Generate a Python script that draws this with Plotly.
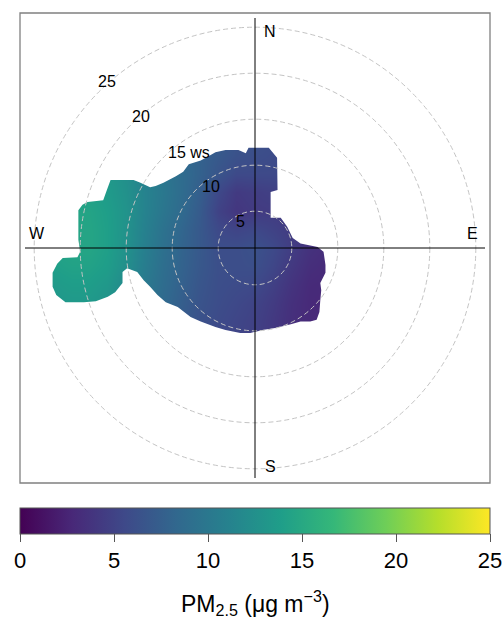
import plotly.graph_objects as go

# ---- data -------------------------------------------------------------
# PM2.5 surface on a regular grid (x = east component, y = north component,
# in radial plot units where radius = wind speed - ws_offset)
grid_x = [-22, -20, -18, -16, -14, -12, -10, -8, -6, -4, -2, 0, 2, 4, 6, 8]
grid_y = [-10, -8, -6, -4, -2, 0, 2, 4, 6, 8, 10, 12]
pm25 = [
    [13.0, 13.0, 13.0, 12.5, 11.0, 9.5, 8.0, 7.0, 6.2, 5.6, 5.2, 4.8, 4.2, 3.5, 3.0, 2.8],
    [13.0, 13.0, 13.0, 12.5, 11.0, 9.5, 8.2, 7.2, 6.3, 5.7, 5.3, 4.9, 4.2, 3.4, 2.9, 2.8],
    [13.2, 13.4, 13.4, 12.8, 11.3, 9.8, 8.5, 7.5, 6.5, 5.9, 5.5, 5.1, 4.4, 3.5, 2.9, 2.8],
    [13.5, 13.8, 13.8, 13.3, 11.8, 10.2, 8.8, 7.7, 6.7, 6.0, 5.8, 5.6, 4.8, 3.8, 3.0, 2.9],
    [14.0, 14.3, 14.3, 13.8, 12.4, 10.6, 9.0, 7.9, 6.9, 6.1, 6.0, 6.1, 5.3, 4.2, 3.3, 3.0],
    [14.3, 14.6, 14.6, 14.0, 12.6, 10.8, 9.2, 8.0, 7.0, 6.0, 6.0, 6.3, 5.6, 4.6, 3.6, 3.2],
    [14.3, 14.6, 14.6, 14.0, 12.7, 11.0, 9.4, 8.2, 7.0, 5.6, 5.2, 5.5, 5.0, 4.4, 3.8, 3.5],
    [14.2, 14.5, 14.5, 13.9, 12.8, 11.2, 9.8, 8.6, 7.2, 5.0, 4.0, 4.4, 4.5, 4.2, 4.0, 3.8],
    [14.0, 14.2, 14.2, 13.6, 12.6, 11.2, 10.0, 8.8, 7.5, 5.5, 4.3, 4.6, 4.8, 4.6, 4.4, 4.2],
    [13.8, 14.0, 14.0, 13.4, 12.4, 11.0, 9.8, 8.8, 7.8, 6.6, 5.6, 5.6, 5.6, 5.4, 5.2, 5.0],
    [13.5, 13.8, 13.8, 13.2, 12.2, 10.8, 9.6, 8.6, 7.8, 7.0, 6.3, 6.0, 5.8, 5.6, 5.4, 5.2],
    [13.2, 13.5, 13.5, 13.0, 12.0, 10.6, 9.4, 8.5, 7.8, 7.2, 6.6, 6.3, 6.0, 5.8, 5.6, 5.4],
]

# outline of the region with data (same plot units)
edge_u = [0.1, 1.5, 2.4, 2.45, 1.7, 1.7, 2.8, 3.5, 4.1, 4.95, 6.8, 7.45, 7.66, 7.66,
          7.1, 7.2, 7.1, 7.0, 6.7, 6.0, 4.95, 3.9, 2.2, 0.8, -0.5, -1.6, -3.2, -4.3,
          -5.9, -7.0, -8.4, -9.7, -10.6, -11.4, -12.1, -12.8, -13.9, -14.4, -14.4,
          -15.2, -16.0, -17.3, -18.6, -20.6, -21.6, -22.0, -22.0, -21.5, -20.9, -19.3,
          -19.0, -19.2, -19.2, -18.75, -18.2, -16.5, -16.1, -15.7, -13.2, -12.45,
          -11.4, -10.8, -9.95, -8.6, -7.8, -7.2, -5.9, -5.2, -4.3, -3.2, -1.8, -1.0, -0.7]
edge_v = [10.9, 10.9, 9.8, 6.3, 6.1, 3.3, 3.3, 2.3, 1.1, 0.5, 0.1, -0.4, -1.85, -2.7,
          -3.8, -4.6, -5.65, -6.95, -7.8, -8.0, -8.0, -8.3, -8.7, -8.9, -9.25, -9.25,
          -8.9, -8.6, -8.0, -7.5, -6.4, -5.9, -5.1, -4.2, -3.5, -2.6, -2.2, -2.6, -3.8,
          -4.8, -5.3, -5.8, -5.9, -5.9, -5.1, -4.2, -2.7, -1.7, -1.1, -1.0,
          -0.4, 0.9, 4.1, 4.7, 5.0, 5.2, 6.3, 7.4, 7.4, 7.1,
          6.6, 6.75, 7.1, 7.8, 8.3, 9.1, 9.5, 9.9, 10.4, 10.65, 10.65, 10.3, 10.9]

ws_rings = [5, 10, 15, 20, 25]
ws_offset = 1.0          # wind speed at the plot centre
ring_labels = ["5", "10", "15 ws", "20", "25"]
ring_label_x = [-1.55, -4.82, -7.15, -12.39, -16.12]
ring_label_y = [2.93, 6.66, 10.43, 14.27, 18.08]
compass = ["N", "E", "S", "W"]
compass_x = [1.68, 23.6, 1.68, -23.7]
compass_y = [23.5, 1.6, -23.8, 1.6]

cb_ticks = [0, 5, 10, 15, 20, 25]

# ---- figure -----------------------------------------------------------
FONT = "Liberation Sans, Arial, sans-serif"
half = 235 / 9.2

fig = go.Figure()
fig.add_trace(go.Heatmap(
    x=grid_x, y=grid_y, z=pm25, zsmooth="best",
    colorscale="Viridis", zmin=0, zmax=25, hoverinfo="skip",
    colorbar=dict(
        orientation="h", lenmode="pixels", len=470, thickness=26,
        x=0.5, xanchor="center", xref="paper",
        y=(483 - 508) / 470, yanchor="top", yref="paper", ypad=0, xpad=0,
        outlinecolor="#555555", outlinewidth=1,
        ticks="outside", ticklen=8, tickcolor="#555555", tickwidth=1,
        tickvals=cb_ticks, ticktext=[str(t) for t in cb_ticks],
        tickfont=dict(family=FONT, size=22, color="black"),
    ),
))

shapes = []
# mask outside the data region
path = "M -40,-40 L 40,-40 L 40,40 L -40,40 Z M " + " L ".join(
    f"{u},{v}" for u, v in zip(edge_u, edge_v)) + " Z"
shapes.append(dict(type="path", path=path, fillcolor="white", fillrule="evenodd",
                   line=dict(width=0), xref="x", yref="y", layer="above"))
for w in ws_rings:
    r = w - ws_offset
    shapes.append(dict(type="circle", x0=-r, y0=-r, x1=r, y1=r, xref="x", yref="y",
                       line=dict(color="#c4c4c4", width=1, dash="5px,3px")))
R = ws_rings[-1]
shapes.append(dict(type="line", x0=0, x1=0, y0=-R, y1=R, xref="x", yref="y",
                   line=dict(color="black", width=1)))
shapes.append(dict(type="line", x0=-R, x1=R, y0=0, y1=0, xref="x", yref="y",
                   line=dict(color="black", width=1)))
shapes.append(dict(type="rect", x0=0, x1=1, y0=0, y1=1, xref="paper", yref="paper",
                   line=dict(color="#808080", width=1.3)))

annotations = []
for t, x, y in zip(ring_labels, ring_label_x, ring_label_y):
    annotations.append(dict(text=t, x=x, y=y, xref="x", yref="y", showarrow=False,
                            font=dict(family=FONT, size=16, color="black")))
for t, x, y in zip(compass, compass_x, compass_y):
    annotations.append(dict(text=t, x=x, y=y, xref="x", yref="y", showarrow=False,
                            font=dict(family=FONT, size=16, color="black")))
annotations.append(dict(text="PM<sub>2.5</sub> (μg m<sup>−3</sup>)",
                        x=0.5, y=(483 - 603) / 470, xref="paper", yref="paper",
                        showarrow=False, yanchor="middle",
                        font=dict(family=FONT, size=23, color="black")))

fig.update_layout(
    width=504, height=619,
    margin=dict(l=20, r=14, t=13, b=136, pad=0),
    paper_bgcolor="white", plot_bgcolor="white",
    xaxis=dict(range=[-half, half], visible=False, fixedrange=True),
    yaxis=dict(range=[-half, half], visible=False, fixedrange=True),
    shapes=shapes, annotations=annotations, showlegend=False,
)
fig.write_html("out.html", config={"displayModeBar": False},
               post_script="document.body.style.margin='0';")
